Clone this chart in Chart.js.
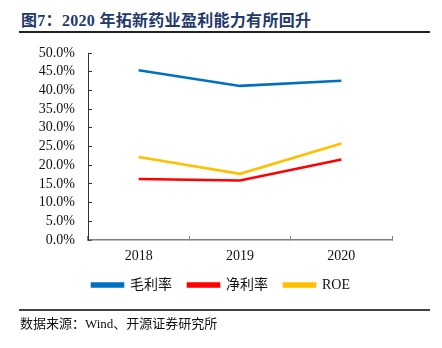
<!DOCTYPE html>
<html><head><meta charset="utf-8">
<script src="https://cdn.jsdelivr.net/npm/chart.js@4/dist/chart.umd.min.js"></script>
<style>
html,body{margin:0;padding:0;background:#fff;}
#wrap{position:relative;width:442px;height:348px;overflow:hidden;}
#title{position:absolute;left:21px;top:7px;font:bold 16px "Liberation Serif","Noto Sans CJK SC",serif;color:#1F3A6B;white-space:nowrap;letter-spacing:0.3px;}
#tline{position:absolute;left:19px;top:31px;width:411px;height:1.5px;background:#222;}
#sline{position:absolute;left:19px;top:309px;width:411px;height:1.5px;background:#444;}
#src{position:absolute;left:20px;top:313px;font:13px "Liberation Serif","Noto Sans CJK SC",serif;color:#111;white-space:nowrap;}
canvas{position:absolute;left:0;top:0;}
</style></head>
<body><div id="wrap">
<div id="title">图7：2020 年拓新药业盈利能力有所回升</div>
<div id="tline"></div>
<canvas id="c" width="442" height="348"></canvas>
<div id="sline"></div>
<div id="src">数据来源：Wind、开源证券研究所</div>
</div>
<script>
const categories = ['2018', '2019', '2020'];
const grossMargin = [45.4, 41.2, 42.6];
const netMargin = [16.3, 15.9, 21.5];
const roe = [22.2, 17.7, 25.8];
const seriesNames = ['毛利率', '净利率', 'ROE'];
const seriesColors = ['#0070C0', '#FF0000', '#FFC000'];

const serif = '"Liberation Serif","Noto Sans CJK SC",serif';
const mk = (i, d) => ({label: seriesNames[i], data: d, borderColor: seriesColors[i], backgroundColor: seriesColors[i], borderWidth: 2.6, pointRadius: 0, tension: 0, fill: false});

new Chart(document.getElementById('c'), {
  type: 'line',
  data: {labels: categories, datasets: [mk(0, grossMargin), mk(1, netMargin), mk(2, roe)]},
  options: {
    responsive: false, animation: false, devicePixelRatio: 1,
    layout: {padding: {top: 53, left: 0, right: 0, bottom: 46}},
    plugins: {
      tooltip: {enabled: false},
      legend: {
        position: 'bottom',
        labels: {boxWidth: 31, boxHeight: 3, padding: 16, color: '#111', font: {family: serif, size: 14}}
      }
    },
    scales: {
      x: {
        offset: true,
        grid: {offset: true, drawOnChartArea: false, drawTicks: true, tickLength: -4, color: '#808080', lineWidth: 1},
        border: {display: true, color: '#808080', width: 1.5},
        ticks: {padding: 12, color: '#111', font: {family: serif, size: 14}, maxRotation: 0},
        afterFit: s => { s.height = 22; }
      },
      y: {
        min: 0, max: 50,
        grid: {drawOnChartArea: false, drawTicks: true, tickLength: -4, color: '#333', lineWidth: 1},
        border: {display: true, color: '#333', width: 1},
        ticks: {stepSize: 5, autoSkip: false, padding: 17, color: '#111', font: {family: serif, size: 14}, callback: v => v.toFixed(1) + '%'},
        afterFit: s => { s.width = 88; }
      },
      y2: {
        position: 'right', display: true,
        grid: {display: false}, border: {display: false}, ticks: {display: false},
        afterFit: s => { s.width = 50; }
      }
    }
  }
});
</script>
</body></html>
